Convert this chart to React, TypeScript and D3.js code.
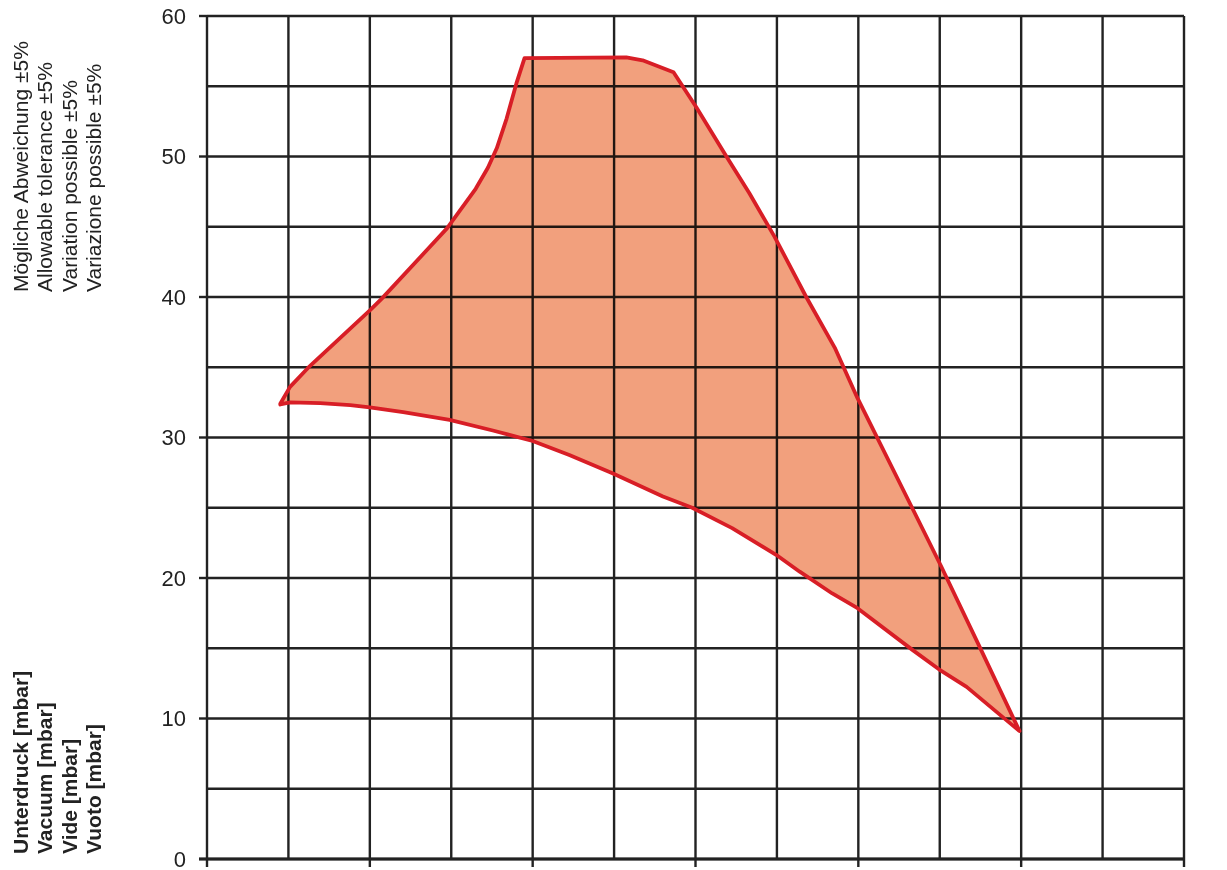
import * as d3 from "d3";
import React from "react";

// upper edge of the tolerance band (x in grid units, y in mbar)
const upperX = [0.9, 1.02, 1.24, 2.01, 2.15, 2.95, 3.05, 3.3, 3.45, 3.56, 3.68, 3.8, 3.9, 5.15, 5.35, 5.73, 6.01, 6.38, 6.66, 6.97, 7.36, 7.71, 7.99, 8.66, 9.02, 9.49, 9.98];
const upperY = [32.4, 33.6, 34.95, 39.1, 39.9, 44.9, 45.7, 47.7, 49.2, 50.6, 52.7, 55.2, 57.0, 57.05, 56.85, 56.0, 53.5, 50.0, 47.4, 44.3, 40.0, 36.4, 32.8, 25.0, 20.8, 15.1, 9.1];

// lower edge
const lowerX = [0.9, 1.02, 1.39, 1.76, 2.0, 2.41, 2.98, 3.51, 4.0, 4.45, 4.98, 5.6, 5.96, 6.45, 6.99, 7.28, 7.68, 7.99, 8.66, 8.99, 9.33, 9.98];
const lowerY = [32.35, 32.5, 32.45, 32.3, 32.15, 31.8, 31.25, 30.5, 29.75, 28.75, 27.45, 25.8, 25.0, 23.55, 21.65, 20.45, 18.9, 17.85, 14.9, 13.5, 12.25, 9.1];

const yTicks = [0, 10, 20, 30, 40, 50, 60];
const yGrid = d3.range(0, 61, 5);
const xGrid = d3.range(0, 13, 1);
const xTicks = d3.range(0, 13, 2);

const toleranceLines = ["Mögliche Abweichung ±5%", "Allowable tolerance ±5%", "Variation possible ±5%", "Variazione possible ±5%"];
const unitLines = ["Unterdruck [mbar]", "Vacuum [mbar]", "Vide [mbar]", "Vuoto [mbar]"];

const W = 1227, H = 870;
const left = 207, right = 1184, top = 16, bottom = 859;

export default function App() {
  const x = d3.scaleLinear().domain([0, 12]).range([left, right]);
  const y = d3.scaleLinear().domain([0, 60]).range([bottom, top]);

  const upper = upperX.map((v, i) => [v, upperY[i]] as [number, number]);
  const lower = lowerX.map((v, i) => [v, lowerY[i]] as [number, number]);
  const band = upper.concat(lower.slice().reverse());

  const line = d3.line<[number, number]>().x(d => x(d[0])).y(d => y(d[1])).curve(d3.curveLinearClosed);
  const bandPath = line(band) || "";

  const font = "Arial, 'Liberation Sans', Helvetica, sans-serif";
  const baselines = [28, 52, 77, 101];

  return (
    <svg width={W} height={H} style={{position: "absolute", left: 0, top: 0, background: "#fff"}} fontFamily={font}>
      {/* band fill */}
      <path d={bandPath} fill="#F2A07D" stroke="none"/>

      {/* grid, multiplied over the fill */}
      <g style={{mixBlendMode: "multiply"}} stroke="#222" strokeWidth={2.4}>
        {yGrid.map(v => (
          <line key={"h" + v} x1={left} x2={right} y1={y(v)} y2={y(v)}/>
        ))}
        {xGrid.map(v => (
          <line key={"v" + v} x1={x(v)} x2={x(v)} y1={top} y2={bottom}/>
        ))}
      </g>

      {/* axes */}
      <line x1={left - 8} x2={right + 1} y1={bottom} y2={bottom} stroke="#222" strokeWidth={3}/>
      {yTicks.map(v => (
        <g key={"yt" + v}>
          <line x1={left - 8} x2={left} y1={y(v)} y2={y(v)} stroke="#222" strokeWidth={2.4}/>
          <text x={left - 21} y={y(v)} dy="0.36em" textAnchor="end" fontSize={22} fill="#222">{v}</text>
        </g>
      ))}
      {xTicks.map(v => (
        <line key={"xt" + v} x1={x(v)} x2={x(v)} y1={bottom} y2={bottom + 8} stroke="#222" strokeWidth={2.4}/>
      ))}

      {/* band outline */}
      <path d={bandPath} fill="none" stroke="#D81E26" strokeWidth={3.8} strokeLinejoin="round"/>

      {/* axis titles */}
      {toleranceLines.map((t, i) => (
        <text key={t} transform={`translate(${baselines[i]},292) rotate(-90)`} fontSize={21} fill="#222">{t}</text>
      ))}
      {unitLines.map((t, i) => (
        <text key={t} transform={`translate(${baselines[i]},854) rotate(-90)`} fontSize={21} fontWeight="bold" fill="#222">{t}</text>
      ))}
    </svg>
  );
}
